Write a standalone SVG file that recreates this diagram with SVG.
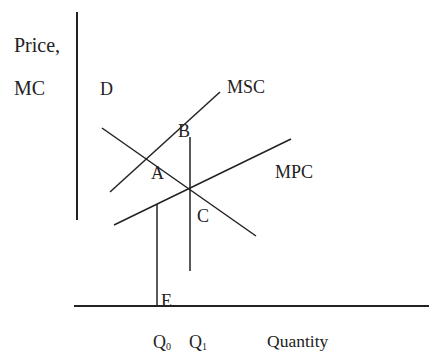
<svg xmlns="http://www.w3.org/2000/svg" width="429" height="353" viewBox="0 0 429 353">
<style>
.ln{stroke:#222;stroke-width:1.5;fill:none;stroke-linecap:butt}
.ax{stroke:#222;stroke-width:2;fill:none}
.t{fill:#222;font-size:18px}
.big{font-size:20px}
.sub{font-size:10px}
</style>
<rect width="429" height="353" fill="#fff"/>
<g id="axes">
<line class="ax" x1="77" y1="12" x2="77" y2="220"/>
<line class="ax" x1="74" y1="306" x2="429" y2="306"/>
</g>
<g id="connectors">
<line id="D" class="ln" x1="102" y1="128" x2="256" y2="236"/>
<line id="MSC" class="ln" x1="110" y1="192" x2="220" y2="92"/>
<line id="MPC" class="ln" x1="114" y1="225" x2="291" y2="139"/>
<line id="Q1line" class="ln" x1="190" y1="137" x2="190" y2="271"/>
<line id="Q0line" class="ln" x1="157" y1="204" x2="157" y2="306"/>
</g>
<g id="labels" font-family="Liberation Serif, DejaVu Serif, serif">
<text class="t big" x="14" y="52">Price,</text>
<text class="t big" x="14" y="95">MC</text>
<text class="t" x="100" y="95">D</text>
<text class="t" x="227" y="93">MSC</text>
<text class="t" x="275" y="178">MPC</text>
<text class="t" x="178" y="137">B</text>
<text class="t" x="151" y="179">A</text>
<text class="t" x="197" y="222">C</text>
<text class="t" x="161" y="307">E</text>
<text class="t" x="153" y="348">Q<tspan class="sub" dy="2">0</tspan></text>
<text class="t" x="189" y="348">Q<tspan class="sub" dy="2">1</tspan></text>
<text class="t" x="267" y="347" style="font-size:17.5px">Quantity</text>
</g>
</svg>
